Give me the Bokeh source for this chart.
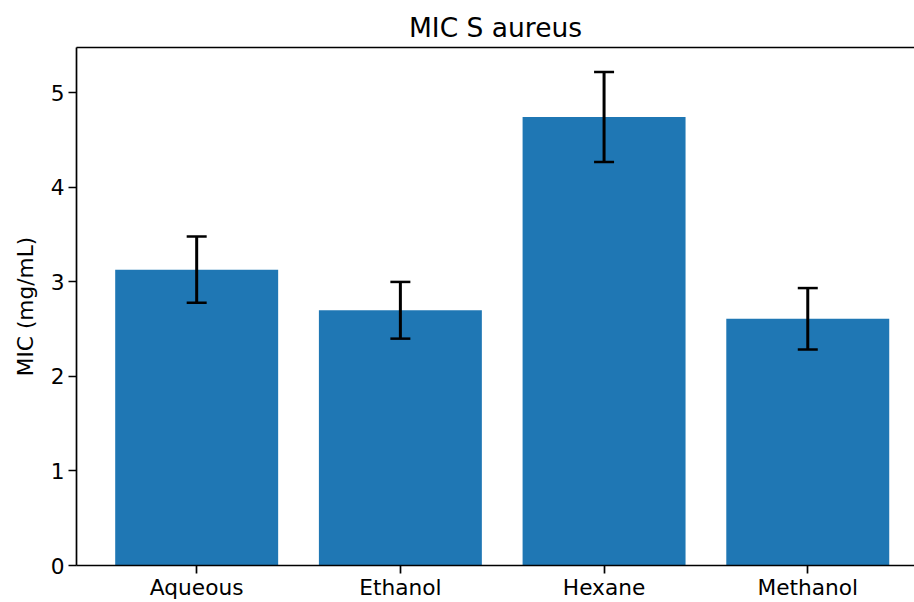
from bokeh.plotting import figure
from bokeh.models import ColumnDataSource, Range1d, FixedTicker, Whisker, TeeHead, LinearAxis
from bokeh.embed import file_html
from bokeh.resources import INLINE

categories = ["Aqueous", "Ethanol", "Hexane", "Methanol"]
mic_values = [3.13, 2.70, 4.745, 2.61]
mic_errors = [0.35, 0.30, 0.475, 0.325]
y_ticks = [0, 1, 2, 3, 4, 5]

xs = list(range(len(categories)))
src = ColumnDataSource(dict(
    x=xs, top=mic_values,
    upper=[v + e for v, e in zip(mic_values, mic_errors)],
    lower=[v - e for v, e in zip(mic_values, mic_errors)],
))

FONT = "DejaVu Sans"
p = figure(width=914, height=602, output_backend="svg", toolbar_location=None,
           x_range=Range1d(-0.59, 3.524), y_range=Range1d(0, 5.48),
           min_border_left=76, min_border_top=47, min_border_right=0, min_border_bottom=0,
           title="MIC S aureus")
p.title.text_font = FONT
p.title.text_font_size = "26.5px"
p.title.text_font_style = "normal"
p.title.align = "center"
p.title.offset = 12
p.title.text_color = "black"

p.vbar(x="x", top="top", width=0.8, source=src, color="#1f77b4", line_color=None)
w = Whisker(base="x", upper="upper", lower="lower", source=src,
            line_color="black", line_width=3, level="overlay",
            upper_head=TeeHead(size=20, line_width=2.5, line_color="black"),
            lower_head=TeeHead(size=20, line_width=2.5, line_color="black"))
p.add_layout(w)

p.grid.visible = False
p.outline_line_color = None

p.xaxis.ticker = FixedTicker(ticks=xs)
p.xaxis.major_label_overrides = {i: c for i, c in enumerate(categories)}
p.yaxis.ticker = FixedTicker(ticks=y_ticks)
p.yaxis.axis_label = "MIC (mg/mL)"

for ax in (p.xaxis[0], p.yaxis[0]):
    ax.axis_line_width = 1.7
    ax.axis_line_color = "black"
    ax.major_tick_line_width = 1.7
    ax.major_tick_line_color = "black"
    ax.major_tick_out = 8
    ax.major_tick_in = 0
    ax.minor_tick_line_color = None
    ax.major_label_text_font = FONT
    ax.major_label_text_font_size = "21.7px"
    ax.major_label_text_color = "black"
    ax.major_label_standoff = 4
    ax.axis_label_text_font = FONT
    ax.axis_label_text_font_size = "21.7px"
    ax.axis_label_text_font_style = "normal"
    ax.axis_label_text_color = "black"
p.yaxis.axis_label_standoff = 10
p.xaxis.major_label_standoff = 1

top_axis = LinearAxis(axis_line_width=1.7, axis_line_color="black",
                      major_tick_line_color=None, minor_tick_line_color=None,
                      major_label_text_font_size="0px", major_label_standoff=0,
                      ticker=FixedTicker(ticks=[]))
p.add_layout(top_axis, "above")

open("out.html", "w").write(file_html(p, INLINE))
